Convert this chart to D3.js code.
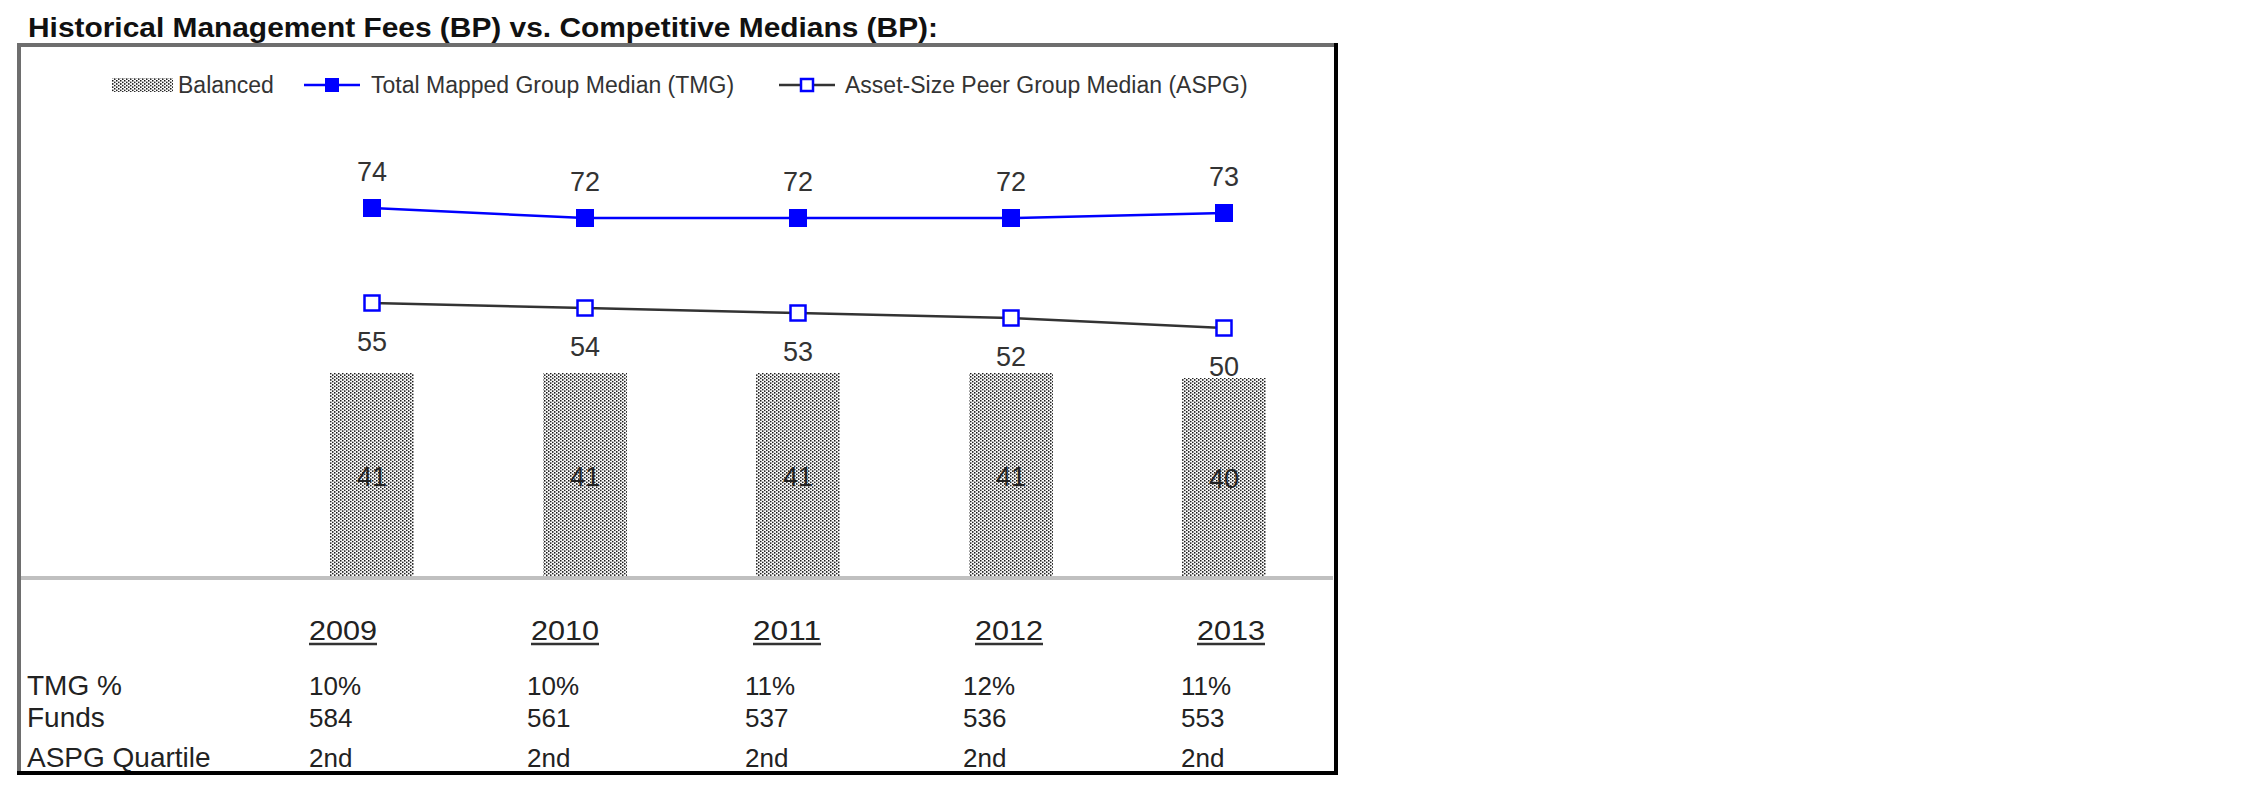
<!DOCTYPE html>
<html>
<head>
<meta charset="utf-8">
<script src="https://cdn.jsdelivr.net/npm/d3@7"></script>
<style>
  body { margin: 0; background: #fff; }
  text { font-family: "Liberation Sans", Arial, sans-serif; }
</style>
</head>
<body>
<div id="chart"></div>
<script>
// Chart data
const years = ["2009", "2010", "2011", "2012", "2013"];
const balanced = [41, 41, 41, 41, 40];
const tmgMedian = [74, 72, 72, 72, 73];
const aspgMedian = [55, 54, 53, 52, 50];

// Table under the chart
const rowLabels = ["TMG %", "Funds", "ASPG Quartile"];
const tmgPct = ["10%", "10%", "11%", "12%", "11%"];
const funds = [584, 561, 537, 536, 553];
const aspgQuartile = ["2nd", "2nd", "2nd", "2nd", "2nd"];

const width = 2250, height = 796;

const svg = d3.select("#chart")
    .append("svg")
    .attr("width", width)
    .attr("height", height);

svg.append("rect").attr("width", width).attr("height", height).attr("fill", "#fff");

// dotted fill used by the bars
const defs = svg.append("defs");
const pat = defs.append("pattern")
    .attr("id", "dots")
    .attr("patternUnits", "userSpaceOnUse")
    .attr("width", 4)
    .attr("height", 3.2);
pat.append("rect").attr("width", 4).attr("height", 3.2).attr("fill", "#fff");
pat.append("rect").attr("x", 0).attr("y", 0).attr("width", 1.5).attr("height", 1.5).attr("fill", "#111");
pat.append("rect").attr("x", 2).attr("y", 1.6).attr("width", 1.5).attr("height", 1.5).attr("fill", "#111");

// Title
svg.append("text")
    .attr("x", 28)
    .attr("y", 37)
    .attr("font-size", 28)
    .attr("font-weight", "bold")
    .attr("fill", "#111")
    .attr("textLength", 910)
    .attr("lengthAdjust", "spacingAndGlyphs")
    .text("Historical Management Fees (BP) vs. Competitive Medians (BP):");

// Scales
const x = d3.scaleBand()
    .domain(years)
    .range([265.5, 1330.5])
    .paddingInner(0.606)
    .paddingOuter(0.303);

const y = d3.scaleLinear()
    .domain([0, 100])
    .range([578, 78]);

const cx = d => x(d) + x.bandwidth() / 2;

// Bars
svg.selectAll(".bar")
    .data(years)
    .enter()
    .append("rect")
    .attr("class", "bar")
    .attr("x", d => x(d))
    .attr("y", (d, i) => y(balanced[i]))
    .attr("width", x.bandwidth())
    .attr("height", (d, i) => y(0) - y(balanced[i]))
    .attr("fill", "url(#dots)");

// Baseline
svg.append("line")
    .attr("x1", 19).attr("x2", 1333)
    .attr("y1", y(0)).attr("y2", y(0))
    .attr("stroke", "#c0c0c0")
    .attr("stroke-width", 4);

// Bar labels
svg.selectAll(".bar-label")
    .data(years)
    .enter()
    .append("text")
    .attr("x", d => cx(d))
    .attr("y", (d, i) => (y(balanced[i]) + y(0)) / 2 + 10)
    .attr("text-anchor", "middle")
    .attr("font-size", 27)
    .attr("fill", "#222")
    .text((d, i) => balanced[i]);

// Lines
const line = d3.line()
    .x(d => cx(d.year))
    .y(d => y(d.value));

const tmgData = years.map((year, i) => ({ year, value: tmgMedian[i] }));
const aspgData = years.map((year, i) => ({ year, value: aspgMedian[i] }));

svg.append("path")
    .datum(aspgData)
    .attr("d", line)
    .attr("fill", "none")
    .attr("stroke", "#333")
    .attr("stroke-width", 2.5);

svg.append("path")
    .datum(tmgData)
    .attr("d", line)
    .attr("fill", "none")
    .attr("stroke", "#0000ff")
    .attr("stroke-width", 2.5);

svg.selectAll(".tmg-mark")
    .data(tmgData)
    .enter()
    .append("rect")
    .attr("x", d => cx(d.year) - 9)
    .attr("y", d => y(d.value) - 9)
    .attr("width", 18)
    .attr("height", 18)
    .attr("fill", "#0000ff");

svg.selectAll(".aspg-mark")
    .data(aspgData)
    .enter()
    .append("rect")
    .attr("x", d => cx(d.year) - 7.5)
    .attr("y", d => y(d.value) - 7.5)
    .attr("width", 15)
    .attr("height", 15)
    .attr("fill", "#fff")
    .attr("stroke", "#0000ff")
    .attr("stroke-width", 2.5);

// Line labels
svg.selectAll(".tmg-label")
    .data(tmgData)
    .enter()
    .append("text")
    .attr("x", d => cx(d.year))
    .attr("y", d => y(d.value) - 27)
    .attr("text-anchor", "middle")
    .attr("font-size", 27)
    .attr("fill", "#333")
    .text(d => d.value);

svg.selectAll(".aspg-label")
    .data(aspgData)
    .enter()
    .append("text")
    .attr("x", d => cx(d.year))
    .attr("y", d => y(d.value) + 48)
    .attr("text-anchor", "middle")
    .attr("font-size", 27)
    .attr("fill", "#333")
    .text(d => d.value);

// Legend
const legend = svg.append("g").attr("font-size", 23).attr("fill", "#333");
legend.append("rect")
    .attr("x", 112).attr("y", 78).attr("width", 61).attr("height", 14)
    .attr("fill", "url(#dots)");
legend.append("text").attr("x", 178).attr("y", 93).text("Balanced");

legend.append("line")
    .attr("x1", 304).attr("x2", 360).attr("y1", 85).attr("y2", 85)
    .attr("stroke", "#0000ff").attr("stroke-width", 2.5);
legend.append("rect")
    .attr("x", 325).attr("y", 78).attr("width", 14).attr("height", 14)
    .attr("fill", "#0000ff");
legend.append("text").attr("x", 371).attr("y", 93).text("Total Mapped Group Median (TMG)");

legend.append("line")
    .attr("x1", 779).attr("x2", 835).attr("y1", 85).attr("y2", 85)
    .attr("stroke", "#333").attr("stroke-width", 2.5);
legend.append("rect")
    .attr("x", 801).attr("y", 79).attr("width", 12).attr("height", 12)
    .attr("fill", "#fff").attr("stroke", "#0000ff").attr("stroke-width", 2.5);
legend.append("text").attr("x", 845).attr("y", 93).text("Asset-Size Peer Group Median (ASPG)");

// Table
const yearX = d3.scalePoint().domain(years).range([309, 1197]);
const colX = d3.scalePoint().domain(years).range([309, 1181]);

const yearLabels = svg.selectAll(".year")
    .data(years)
    .enter()
    .append("g");
yearLabels.append("text")
    .attr("x", d => yearX(d))
    .attr("y", 640)
    .attr("font-size", 28)
    .attr("fill", "#222")
    .attr("textLength", 68)
    .attr("lengthAdjust", "spacingAndGlyphs")
    .text(d => d);
yearLabels.append("line")
    .attr("x1", d => yearX(d))
    .attr("x2", d => yearX(d) + 68)
    .attr("y1", 644).attr("y2", 644)
    .attr("stroke", "#333")
    .attr("stroke-width", 2.5);

const rows = [tmgPct, funds, aspgQuartile];
const rowY = [695, 727, 767];

rowLabels.forEach((label, r) => {
    svg.append("text")
        .attr("x", 27)
        .attr("y", rowY[r])
        .attr("font-size", 28)
        .attr("fill", "#222")
        .text(label);
    svg.selectAll(".row" + r)
        .data(years)
        .enter()
        .append("text")
        .attr("x", d => colX(d))
        .attr("y", rowY[r])
        .attr("font-size", 26)
        .attr("fill", "#222")
        .text((d, i) => rows[r][i]);
});

// Frame
const frame = svg.append("g");
frame.append("line").attr("x1", 17).attr("x2", 1338).attr("y1", 45).attr("y2", 45)
    .attr("stroke", "#6e6e6e").attr("stroke-width", 4);
frame.append("line").attr("x1", 19).attr("x2", 19).attr("y1", 43).attr("y2", 775)
    .attr("stroke", "#6e6e6e").attr("stroke-width", 4);
frame.append("line").attr("x1", 1336).attr("x2", 1336).attr("y1", 43).attr("y2", 775)
    .attr("stroke", "#000").attr("stroke-width", 4);
frame.append("line").attr("x1", 17).attr("x2", 1338).attr("y1", 773).attr("y2", 773)
    .attr("stroke", "#000").attr("stroke-width", 4);
</script>
</body>
</html>
